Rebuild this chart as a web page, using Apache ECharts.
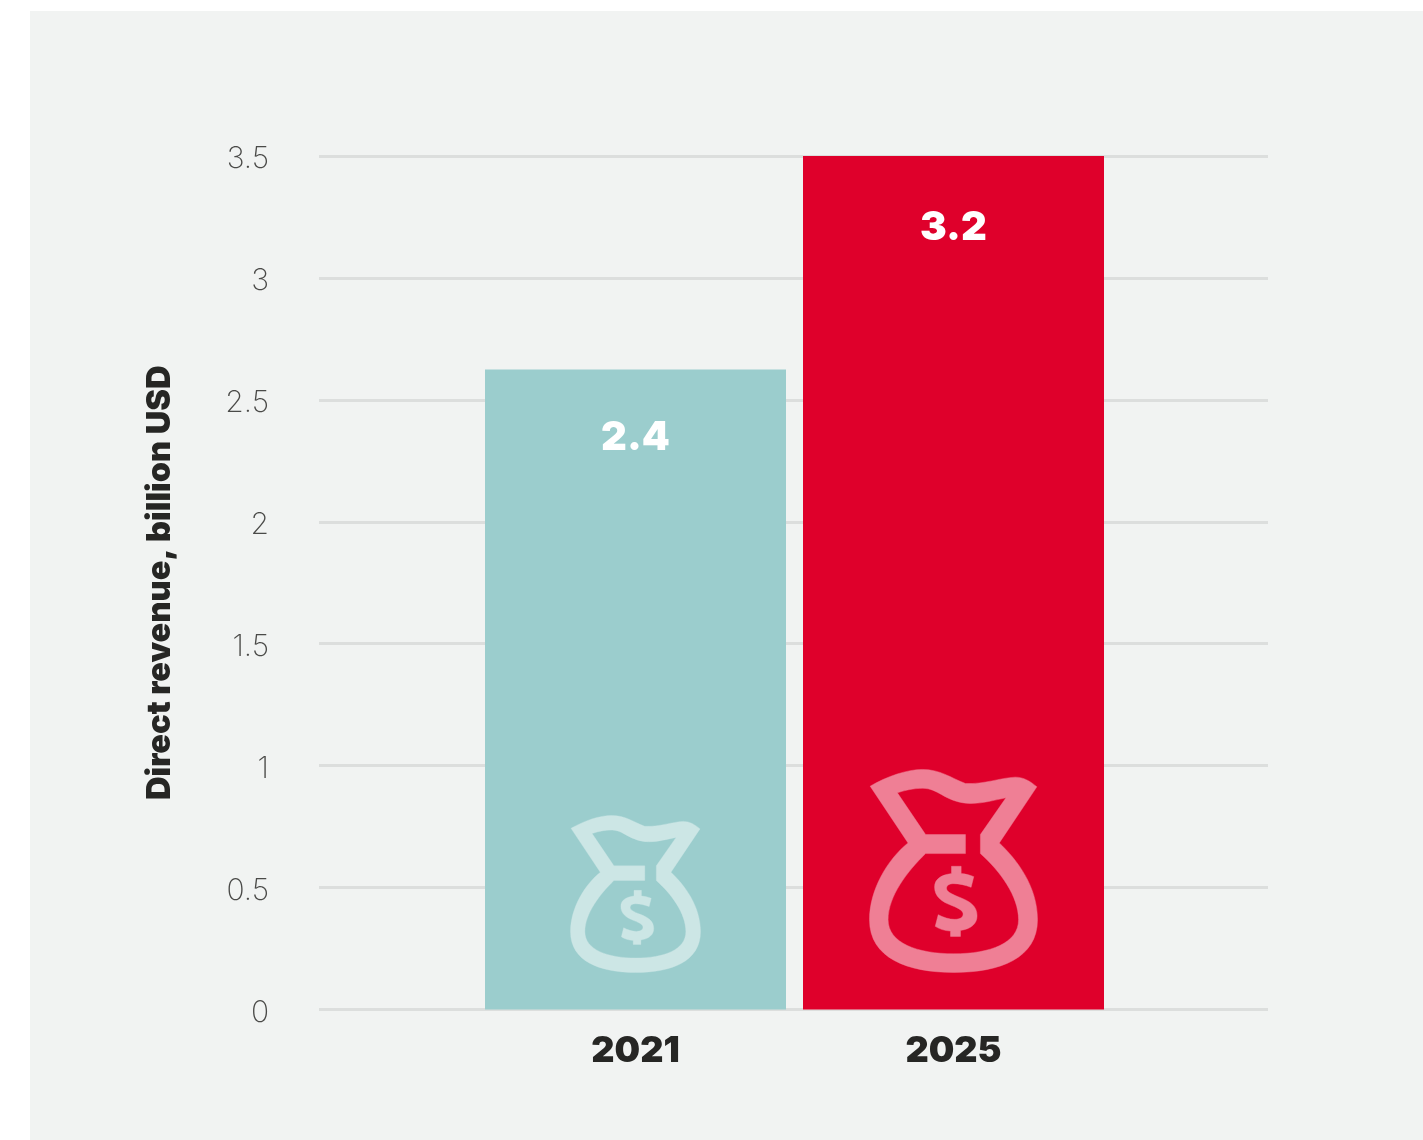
<!DOCTYPE html>
<html>
<head>
<meta charset="utf-8">
<style>
  html, body { margin: 0; padding: 0; background: #ffffff; }
  #chart { position: absolute; left: 30px; top: 11px; width: 1393px; height: 1129px; }
</style>
<script src="https://cdn.jsdelivr.net/npm/echarts@6/dist/echarts.min.js"></script>
</head>
<body>
<div id="chart"></div>
<script>
const years = ['2021', '2025'];
const revenue = [2.4, 3.2];
const barColors = ['#9bcdcd', '#df002b'];
const iconColors = ['#cce6e5', '#ef7f95'];
const iconSizes = [[130, 157], [168, 203]];
const labelDistances = [49, 52];
const axisTitle = 'Direct revenue, billion USD';

// Money bag: outer silhouette, inner cut-out wound the other way, dollar sign.
const moneyBag = 'path://' +
  'M58 110 C110 80 170 60 215 60 C270 60 300 85 345 102 C400 105 450 85 495 83 C520 83 540 95 560 112 ' +
  'L447 280 C500 330 562 410 562 510 C562 625 450 668 310 668 C170 668 56 625 56 510 C56 420 110 330 172 280 Z ' +
  'M140 130 L225 255 L345 255 L345 312 L225 312 C170 365 112 440 112 510 C112 580 200 612 310 612 ' +
  'C420 612 505 580 505 510 C505 440 450 365 390 312 L390 255 L467 145 C430 152 400 162 360 162 ' +
  'C290 160 265 120 225 117 C200 115 170 120 140 130 Z ' +
  'M303 350 L332 350 L332 372 C345 373 358 376 370 381 L362 413 C345 406 325 402 310 402 ' +
  'C295 402 288 408 288 416 C288 425 300 432 325 442 C360 455 380 470 380 498 C380 522 362 538 330 542 ' +
  'L330 560 L300 560 L300 544 C282 543 266 538 254 530 L263 495 C278 503 296 509 312 509 ' +
  'C328 509 338 503 338 493 C338 484 328 477 305 468 C272 456 252 440 252 412 C252 390 270 376 303 372 Z';

const chart = echarts.init(document.getElementById('chart'), null, { renderer: 'canvas' });
chart.setOption({
  animation: false,
  backgroundColor: '#f1f3f2',
  grid: [
    // Full-width grid carrying the tick labels and gridlines.
    { left: 289, top: 145, width: 949, height: 853.5 },
    // Narrower grid carrying the two bars.
    { left: 446.5, top: 145, width: 636, height: 853.5 }
  ],
  xAxis: [
    { gridIndex: 0, type: 'category', data: [], show: false },
    {
      gridIndex: 1, type: 'category', data: years,
      axisLine: { show: false }, axisTick: { show: false },
      axisLabel: {
        margin: 24, color: '#262624', fontFamily: 'Inter',
        fontWeight: 900, fontSize: 36
      }
    }
  ],
  yAxis: [
    {
      gridIndex: 0, type: 'value', min: 0, max: 3.5, interval: 0.5,
      name: axisTitle, nameLocation: 'middle', nameRotate: 90, nameGap: 142,
      nameTextStyle: { color: '#262624', fontFamily: 'Inter', fontWeight: 900, fontSize: 32.6 },
      axisLine: { show: false }, axisTick: { show: false },
      axisLabel: {
        margin: 50, color: '#4a4a48', fontFamily: 'Inter', fontWeight: 200,
        fontSize: 30, verticalAlign: 'top', lineHeight: 6
      },
      splitLine: { show: true, lineStyle: { color: '#dcdedd', width: 3 } }
    },
    // The tallest bar spans the full plot height.
    { gridIndex: 1, type: 'value', min: 0, max: 3.2, show: false, splitLine: { show: false } }
  ],
  series: [
    {
      type: 'bar', xAxisIndex: 1, yAxisIndex: 1, barWidth: 301,
      data: revenue.map((value, i) => ({
        value,
        itemStyle: { color: barColors[i] },
        label: { distance: labelDistances[i] }
      })),
      label: {
        show: true, position: 'insideTop', color: '#ffffff',
        fontFamily: 'Inter', fontWeight: 900, fontSize: 40
      }
    },
    {
      type: 'pictorialBar', xAxisIndex: 1, yAxisIndex: 1, z: 3,
      symbol: moneyBag, symbolPosition: 'start', symbolOffset: [0, -36.5],
      data: revenue.map((value, i) => ({
        value, symbolSize: iconSizes[i],
        itemStyle: { color: iconColors[i], borderColor: iconColors[i], borderWidth: 1 }
      }))
    }
  ]
});
</script>
</body>
</html>
